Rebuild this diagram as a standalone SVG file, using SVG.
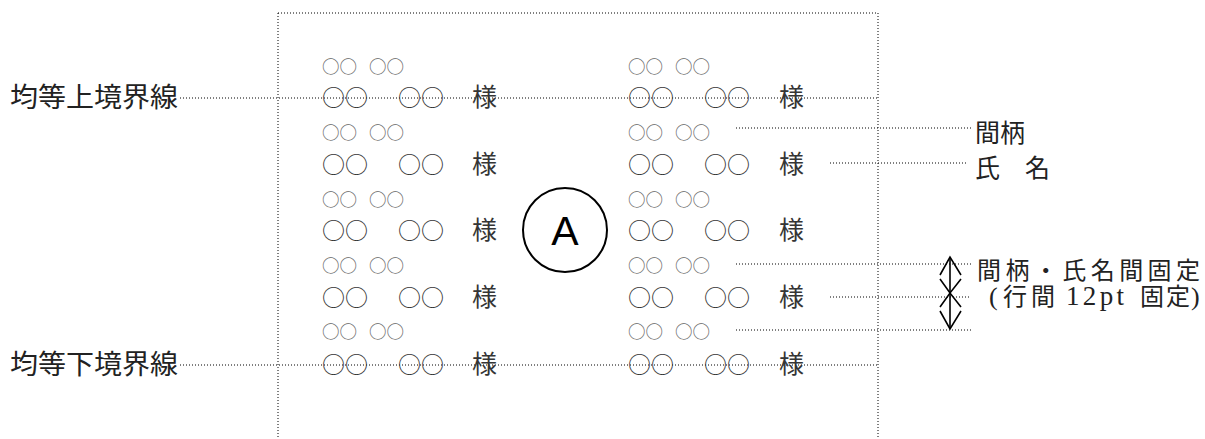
<svg xmlns="http://www.w3.org/2000/svg" width="1205" height="439" viewBox="0 0 1205 439">
<style>
.dot{fill:none;stroke:#000;stroke-width:1;stroke-dasharray:1 2}
.jp{font-family:"Noto Sans CJK JP","Noto Sans CJK SC",sans-serif}
.lat{font-family:"Liberation Serif",serif}
.sm{font-size:17.5px;fill:#666}
.bg{font-size:23px;fill:#333}
.sama{font-size:25px;fill:#333}
.lbl{font-size:27px;fill:#222}
.rl{font-size:25px;fill:#222}
.fx{font-size:24px;fill:#222}
.arr{fill:none;stroke:#000;stroke-width:1.6}
</style>
<rect width="1205" height="439" fill="#fff"/>
<g id="frame">
<path class="dot" d="M278 13H878M278 13V439M878 13V439"/>
</g>
<g id="connectors">
<path class="dot" d="M180 98H877"/>
<path class="dot" d="M180 365H877"/>
<path class="dot" d="M736 128H973"/>
<path class="dot" d="M830 163H967"/>
<path class="dot" d="M736 264H971"/>
<path class="dot" d="M830 297H971"/>
<path class="dot" d="M736 330H971"/>
<g id="spacing-arrows" class="arr">
<path d="M950 257V329"/>
<path d="M940 275L950 257L961 275"/>
<path d="M940 279L950 293L961 279"/>
<path d="M940 307L950 293L961 307"/>
<path d="M940 311L950 329L961 311"/>
</g>
</g>
<g id="label-upper" class="jp lbl"><text x="10" y="107" textLength="168" lengthAdjust="spacingAndGlyphs">均等上境界線</text></g>
<g id="label-lower" class="jp lbl"><text x="10" y="374" textLength="168" lengthAdjust="spacingAndGlyphs">均等下境界線</text></g>
<g id="label-relation" class="jp rl"><text x="975" y="142">間柄</text></g>
<g id="label-name" class="jp rl"><text x="975" y="177">氏　名</text></g>
<g id="label-fixed">
<text class="jp fx" x="977" y="279" textLength="223" lengthAdjust="spacing">間柄・氏名間固定</text>
<text class="fx" y="305"><tspan class="lat" x="989" font-size="26">(</tspan><tspan class="jp" x="1003 1031">行間</tspan><tspan class="lat" x="1066" font-size="27" textLength="58" lengthAdjust="spacing">12pt</tspan><tspan class="jp" x="1140 1166">固定</tspan><tspan class="lat" x="1191" font-size="26">)</tspan></text>
</g>
<g id="circle-A">
<circle cx="565" cy="230" r="42" fill="none" stroke="#000" stroke-width="2"/>
<text x="565" y="245" text-anchor="middle" font-family="Liberation Sans,Arial,sans-serif" font-size="41" fill="#000">A</text>
</g>
<g id="left-column" class="jp" opacity="0.99">
<text class="sm" y="72.5"><tspan x="322">○○</tspan><tspan x="369">○○</tspan></text>
<text class="bg" y="105.5"><tspan x="322">○○</tspan><tspan x="398">○○</tspan><tspan class="sama" x="472">様</tspan></text>
<text class="sm" y="139"><tspan x="322">○○</tspan><tspan x="369">○○</tspan></text>
<text class="bg" y="172.5"><tspan x="322">○○</tspan><tspan x="398">○○</tspan><tspan class="sama" x="472">様</tspan></text>
<text class="sm" y="205.5"><tspan x="322">○○</tspan><tspan x="369">○○</tspan></text>
<text class="bg" y="239"><tspan x="322">○○</tspan><tspan x="398">○○</tspan><tspan class="sama" x="472">様</tspan></text>
<text class="sm" y="271.5"><tspan x="322">○○</tspan><tspan x="369">○○</tspan></text>
<text class="bg" y="305.5"><tspan x="322">○○</tspan><tspan x="398">○○</tspan><tspan class="sama" x="472">様</tspan></text>
<text class="sm" y="338"><tspan x="322">○○</tspan><tspan x="369">○○</tspan></text>
<text class="bg" y="372.5"><tspan x="322">○○</tspan><tspan x="398">○○</tspan><tspan class="sama" x="472">様</tspan></text>
</g>
<g id="right-column" class="jp" opacity="0.99">
<text class="sm" y="72.5"><tspan x="628">○○</tspan><tspan x="675">○○</tspan></text>
<text class="bg" y="105.5"><tspan x="628">○○</tspan><tspan x="704">○○</tspan><tspan class="sama" x="779">様</tspan></text>
<text class="sm" y="139"><tspan x="628">○○</tspan><tspan x="675">○○</tspan></text>
<text class="bg" y="172.5"><tspan x="628">○○</tspan><tspan x="704">○○</tspan><tspan class="sama" x="779">様</tspan></text>
<text class="sm" y="205.5"><tspan x="628">○○</tspan><tspan x="675">○○</tspan></text>
<text class="bg" y="239"><tspan x="628">○○</tspan><tspan x="704">○○</tspan><tspan class="sama" x="779">様</tspan></text>
<text class="sm" y="271.5"><tspan x="628">○○</tspan><tspan x="675">○○</tspan></text>
<text class="bg" y="305.5"><tspan x="628">○○</tspan><tspan x="704">○○</tspan><tspan class="sama" x="779">様</tspan></text>
<text class="sm" y="338"><tspan x="628">○○</tspan><tspan x="675">○○</tspan></text>
<text class="bg" y="372.5"><tspan x="628">○○</tspan><tspan x="704">○○</tspan><tspan class="sama" x="779">様</tspan></text>
</g>
</svg>
